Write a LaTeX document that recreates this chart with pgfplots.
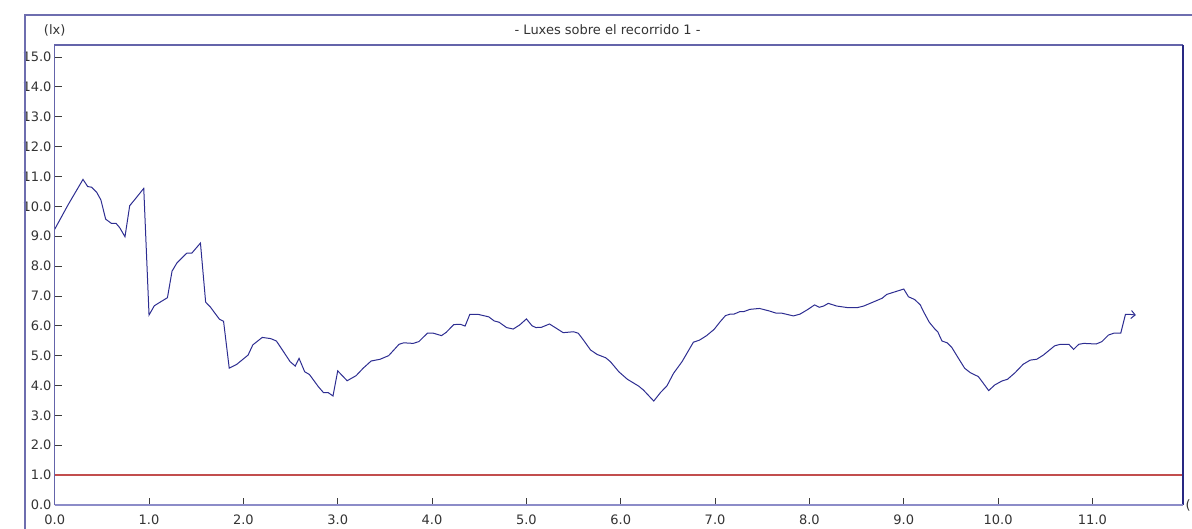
\documentclass[border=0pt]{standalone}
\usepackage{pgfplots}
\pgfplotsset{compat=1.18}
\usepackage{fontspec}
\setmainfont{DejaVu Sans}
\usetikzlibrary{arrows.meta}
\definecolor{framecol}{RGB}{110,110,175}
\definecolor{boxcol}{RGB}{100,100,170}
\definecolor{rightcol}{RGB}{40,40,130}
\definecolor{bottomcol}{RGB}{140,140,200}
\definecolor{datacol}{RGB}{45,45,145}
\definecolor{tickcol}{RGB}{60,60,60}
\pgfplotstableread{
x y
0.00 9.23
0.14 10.04
0.30 10.90
0.35 10.66
0.39 10.64
0.445 10.47
0.49 10.21
0.54 9.57
0.60 9.43
0.65 9.43
0.69 9.28
0.745 8.98
0.795 10.02
0.85 10.23
0.944 10.60
1.00 6.36
1.056 6.67
1.117 6.79
1.195 6.94
1.244 7.83
1.297 8.11
1.40 8.43
1.453 8.43
1.545 8.77
1.60 6.79
1.647 6.64
1.746 6.22
1.79 6.15
1.85 4.58
1.93 4.71
2.05 5.02
2.10 5.36
2.20 5.61
2.29 5.57
2.35 5.49
2.42 5.16
2.495 4.80
2.55 4.65
2.59 4.91
2.65 4.46
2.70 4.37
2.795 3.96
2.85 3.76
2.90 3.76
2.95 3.65
3.00 4.49
3.10 4.16
3.195 4.33
3.27 4.58
3.354 4.82
3.45 4.88
3.54 5.00
3.65 5.38
3.70 5.43
3.80 5.41
3.86 5.47
3.95 5.75
4.015 5.75
4.10 5.67
4.15 5.78
4.23 6.04
4.30 6.05
4.35 5.99
4.40 6.38
4.49 6.38
4.60 6.30
4.66 6.16
4.71 6.12
4.79 5.94
4.86 5.89
4.93 6.03
5.00 6.23
5.06 6.00
5.10 5.94
5.16 5.95
5.245 6.06
5.305 5.94
5.39 5.77
5.50 5.80
5.55 5.75
5.605 5.52
5.68 5.19
5.75 5.04
5.84 4.93
5.89 4.80
5.98 4.46
6.07 4.21
6.19 3.98
6.24 3.85
6.35 3.48
6.42 3.76
6.49 3.99
6.56 4.41
6.65 4.80
6.77 5.45
6.835 5.52
6.91 5.67
6.99 5.88
7.055 6.14
7.11 6.34
7.16 6.39
7.20 6.39
7.26 6.47
7.30 6.47
7.37 6.55
7.47 6.58
7.57 6.50
7.65 6.42
7.71 6.42
7.83 6.33
7.90 6.39
7.985 6.55
8.055 6.70
8.105 6.62
8.15 6.66
8.20 6.75
8.29 6.66
8.40 6.61
8.51 6.61
8.575 6.66
8.68 6.80
8.77 6.92
8.82 7.05
8.91 7.14
9.00 7.23
9.05 6.97
9.115 6.88
9.175 6.70
9.21 6.47
9.27 6.12
9.33 5.89
9.36 5.80
9.405 5.49
9.46 5.43
9.51 5.27
9.58 4.91
9.645 4.58
9.705 4.43
9.79 4.30
9.84 4.09
9.90 3.83
9.965 4.02
10.04 4.15
10.10 4.21
10.18 4.43
10.265 4.71
10.34 4.85
10.41 4.88
10.48 5.02
10.60 5.33
10.66 5.38
10.75 5.38
10.80 5.21
10.855 5.38
10.91 5.41
11.04 5.39
11.10 5.47
11.17 5.69
11.225 5.75
11.30 5.75
11.35 6.38
11.40 6.38
11.46 6.36
}\lux
\begin{document}
\begin{tikzpicture}
\begin{axis}[
  scale only axis,
  width=1128.3pt, height=460pt,
  xmin=0, xmax=11.96, ymin=0, ymax=15.4,
  axis line style={draw=none},
  xtick={0,1,...,11}, ytick={0,1,...,15},
  tick align=inside,
  major tick length=7pt,
  tick style={tickcol, line width=0.8pt},
  xtick pos=bottom, ytick pos=left,
  /pgf/number format/.cd, fixed, fixed zerofill, precision=1, assume math mode=true,
  /pgfplots/.cd,
  tick label style={font=\fontsize{13}{15}\selectfont, text=black!80},
  yticklabel style={anchor=east, inner sep=0pt, xshift=-3pt},
  xticklabel style={anchor=north, inner sep=0pt, yshift=-10pt},
  clip=false,
]
\addplot[color=red!60!white!76!black, solid, line width=1.3pt] coordinates {(0,1) (11.96,1)};
\addplot[color=datacol, solid, line width=1pt, -{Straight Barb[length=4pt,width=8pt]}] table[x=x,y=y] {\lux};
\draw[boxcol, line width=1.2pt] (rel axis cs:0,0) -- (rel axis cs:0,1) -- (rel axis cs:1,1);
\draw[rightcol, line width=1.2pt] (rel axis cs:1,1) -- (rel axis cs:1,0);
\draw[bottomcol, line width=1.2pt] (rel axis cs:0,0) -- (rel axis cs:1,0);
\node[font=\fontsize{13}{15}\selectfont, text=black!80] at ([yshift=15pt]rel axis cs:0.49,1) {- Luxes sobre el recorrido 1 -};
\node[font=\fontsize{13}{15}\selectfont, text=black!80] at ([yshift=15pt]rel axis cs:0,1) {(lx)};
\end{axis}
\draw[framecol, line width=1.2pt] ([xshift=-29.7pt,yshift=-40pt]current axis.south west) -- ([xshift=-29.7pt,yshift=30pt]current axis.north west) -- ([xshift=30pt,yshift=30pt]current axis.north east);
\node[font=\fontsize{13}{15}\selectfont, text=black!80, anchor=west, inner sep=0pt] at ([xshift=2.5pt]current axis.south east) {(};
\pgfresetboundingbox
\useasboundingbox ([xshift=-54.7pt,yshift=-24pt]current axis.south west) rectangle ([xshift=9pt,yshift=45pt]current axis.north east);
\end{tikzpicture}
\end{document}
